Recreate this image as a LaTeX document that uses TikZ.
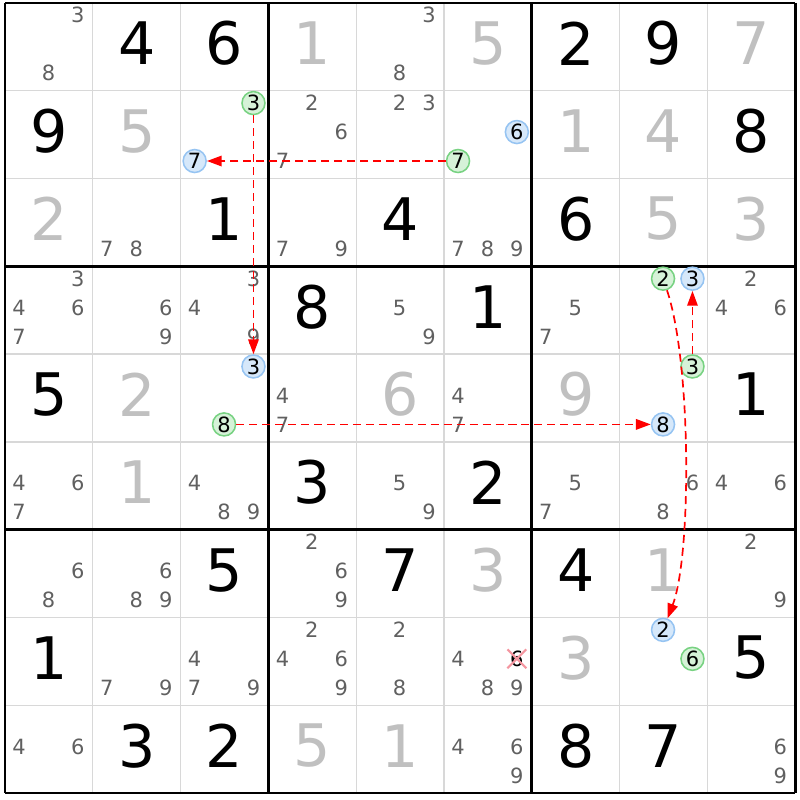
\documentclass[tikz,border=0pt]{standalone}
\usepackage{fontspec}
\setmainfont{DejaVu Sans}
\usepackage{tikz}
\usetikzlibrary{arrows.meta,shapes.misc}
\definecolor{solvedgray}{RGB}{192,192,192}
\definecolor{candgray}{RGB}{96,96,96}
\definecolor{thingrid}{RGB}{216,216,216}
\definecolor{srcline}{RGB}{120,210,130}
\definecolor{srcfill}{RGB}{214,242,216}
\definecolor{dstline}{RGB}{150,196,242}
\definecolor{dstfill}{RGB}{214,232,250}
\definecolor{crossred}{RGB}{244,150,160}

\begin{document}
\begin{tikzpicture}[x=1cm, y=-1cm,
  given/.style={font=\fontsize{19}{19}\selectfont, inner sep=0pt},
  solved/.style={given, text=solvedgray},
  cand/.style={font=\fontsize{6.8}{7}\selectfont, text=candgray, inner sep=0pt},
  src/.style={cand, text=black, circle, draw=srcline, fill=srcfill, line width=0.5pt, minimum size=0.262cm},
  dst/.style={src, draw=dstline, fill=dstfill},
  elim/.style={cand, text=black, cross out, draw=crossred, line width=0.7pt, minimum size=0.19cm},
  link/.style={red, line width=0.55pt, dash pattern=on 2.6pt off 1.6pt, -{Triangle[length=4.8pt,width=3.4pt]}}]
\useasboundingbox (-0.057,-0.034) rectangle (9.055,9.078);
% grid
\foreach \i in {1,2,4,5,7,8}{
  \draw[thingrid, line width=0.45pt] (\i,0) -- (\i,9);
  \draw[thingrid, line width=0.45pt] (0,\i) -- (9,\i);}
\foreach \i in {0,3,6,9}{
  \draw[line width=0.85pt] (\i,0) -- (\i,9);
  \draw[line width=0.85pt] (0,\i) -- (9,\i);}
% givens and solved cells
\foreach \c/\r/\d in {1/0/4, 2/0/6, 6/0/2, 7/0/9, 0/1/9, 8/1/8, 2/2/1, 4/2/4, 6/2/6,
    3/3/8, 5/3/1, 0/4/5, 8/4/1, 3/5/3, 5/5/2, 2/6/5, 4/6/7, 6/6/4,
    0/7/1, 8/7/5, 1/8/3, 2/8/2, 6/8/8, 7/8/7}
  \node[given] (v\c\r) at (\c+0.5,\r+0.46) {\d};
\foreach \c/\r/\d in {3/0/1, 5/0/5, 8/0/7, 1/1/5, 6/1/1, 7/1/4, 0/2/2, 7/2/5, 8/2/3,
    1/4/2, 4/4/6, 6/4/9, 1/5/1, 5/6/3, 7/6/1, 6/7/3, 3/8/5, 4/8/1}
  \node[solved] (v\c\r) at (\c+0.5,\r+0.46) {\d};
% candidates
\foreach \c/\r/\ds in {0/0/{3,8}, 4/0/{3,8}, 3/1/{2,6,7}, 4/1/{2,3},
    1/2/{7,8}, 3/2/{7,9}, 5/2/{7,8,9},
    0/3/{3,4,6,7}, 1/3/{6,9}, 2/3/{3,4,9}, 4/3/{5,9}, 6/3/{5,7}, 8/3/{2,4,6},
    3/4/{4,7}, 5/4/{4,7},
    0/5/{4,6,7}, 2/5/{4,8,9}, 4/5/{5,9}, 6/5/{5,7}, 7/5/{6,8}, 8/5/{4,6},
    0/6/{6,8}, 1/6/{6,8,9}, 3/6/{2,6,9}, 8/6/{2,9},
    1/7/{7,9}, 2/7/{4,7,9}, 3/7/{2,4,6,9}, 4/7/{2,8}, 5/7/{4,8,9},
    0/8/{4,6}, 5/8/{4,6,9}, 8/8/{6,9}}{
  \foreach \d in \ds
    \node[cand] (k\c\r\d) at ({\c+0.16+0.335*mod(\d-1,3)},{\r+0.14+0.33*div(\d-1,3)}) {\d};}
% marked candidates
\foreach \c/\r/\d/\s in {2/1/3/src, 2/1/7/dst, 5/1/6/dst, 5/1/7/src, 7/3/2/src, 7/3/3/dst,
    2/4/3/dst, 2/4/8/src, 7/4/3/src, 7/4/8/dst, 7/7/2/dst, 7/7/6/src, 5/7/6/elim}
  \node[\s] (k\c\r\d) at ({\c+0.16+0.335*mod(\d-1,3)},{\r+0.14+0.33*div(\d-1,3)}) {\d};
% chain
\draw[link] (k517) -- (k217);
\draw[link] (k213) -- (k243);
\draw[link] (k248) -- (k748);
\draw[link] (k743) -- (k733);
\draw[link] (k732) .. controls (7.82,4.1) and (7.82,6.3) .. (k772);
\end{tikzpicture}
\end{document}
